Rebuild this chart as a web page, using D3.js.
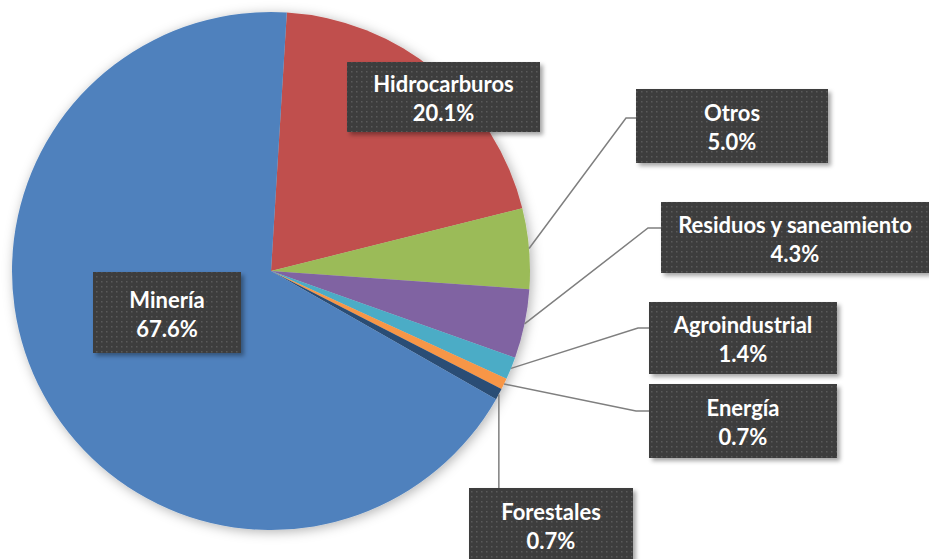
<!DOCTYPE html>
<html>
<head>
<meta charset="utf-8">
<script src="https://cdnjs.cloudflare.com/ajax/libs/d3/7.8.5/d3.min.js"></script>
<style>
  body { margin: 0; background: #fff; }
  svg { display: block; font-family: Lato, "Open Sans", sans-serif; }
</style>
</head>
<body>
<div id="vis"></div>
<script>
var width = 929,
	height = 559;

// data, clockwise from the top
var sectors = ["Hidrocarburos", "Otros", "Residuos y saneamiento", "Agroindustrial", "Energía", "Forestales", "Minería"];
var shares = [20.1, 5.0, 4.3, 1.4, 0.7, 0.7, 67.6];
var colors = ["#C0504D", "#9BBB59", "#8064A2", "#4BACC6", "#F79646", "#2C4D75", "#4F81BD"];

// label boxes: [x, y, w, h], elbow of the leader line (null = no line)
var boxes = [
	[347, 62, 193, 70],
	[636, 89, 192, 74],
	[661, 202, 268, 71],
	[649, 302, 188, 72],
	[649, 384, 188, 74],
	[469, 488, 164, 74],
	[93, 272, 148, 81]
];
var elbows = [null, [626, 118], [648, 228], [638, 328], [636, 411], null, null];

var cx = 271, cy = 271, r = 259;

var svg = d3.select('#vis')
	.append('svg')
	.attr('width', width)
	.attr('height', height);

var defs = svg.append('defs');

var pat = defs.append('pattern')
	.attr('id', 'dots')
	.attr('patternUnits', 'userSpaceOnUse')
	.attr('width', 5)
	.attr('height', 5);
pat.append('rect').attr('width', 5).attr('height', 5).attr('fill', '#3d3d3d');
pat.append('rect').attr('x', 1).attr('y', 1).attr('width', 1.5).attr('height', 1.5).attr('fill', '#5a5a5a');

var f1 = defs.append('filter').attr('id', 'pieShadow')
	.attr('x', '-10%').attr('y', '-10%').attr('width', '120%').attr('height', '120%');
f1.append('feDropShadow')
	.attr('dx', 2).attr('dy', 2).attr('stdDeviation', 6)
	.attr('flood-color', '#000').attr('flood-opacity', 0.3);

var f2 = defs.append('filter').attr('id', 'boxShadow')
	.attr('x', '-10%').attr('y', '-10%').attr('width', '130%').attr('height', '140%');
f2.append('feDropShadow')
	.attr('dx', 3).attr('dy', 3).attr('stdDeviation', 2)
	.attr('flood-color', '#000').attr('flood-opacity', 0.35);

var offset = 3.5 * Math.PI / 180;

var pie = d3.pie()
	.sort(null)
	.startAngle(offset)
	.endAngle(offset + 2 * Math.PI);

var arcs = pie(shares);

var arc = d3.arc()
	.innerRadius(0)
	.outerRadius(r);

var g = svg.append('g')
	.attr('transform', 'translate(' + cx + ',' + cy + ')');

g.append('g')
	.attr('filter', 'url(#pieShadow)')
	.selectAll('path')
	.data(arcs)
	.enter()
	.append('path')
	.attr('d', arc)
	.attr('fill', function(d, i) { return colors[i]; })
	.attr('stroke', 'none');

// leader lines
arcs.forEach(function(d, i) {
	var b = boxes[i];
	var mid = (d.startAngle + d.endAngle) / 2;
	var sx = cx + r * Math.sin(mid),
		sy = cy - r * Math.cos(mid);
	var pts = null;
	if (elbows[i]) {
		pts = [[sx, sy], elbows[i], [b[0], elbows[i][1]]];
	} else if (sectors[i] == "Forestales") {
		pts = [[sx, sy], [sx, b[1]]];
	}
	if (pts) {
		svg.append('path')
			.attr('d', d3.line()(pts))
			.attr('fill', 'none')
			.attr('stroke', '#7f7f7f')
			.attr('stroke-width', 1.5);
	}
});

// label boxes
var labels = svg.selectAll('g.lab')
	.data(arcs)
	.enter()
	.append('g')
	.attr('class', 'lab');

labels.append('rect')
	.attr('x', function(d, i) { return boxes[i][0]; })
	.attr('y', function(d, i) { return boxes[i][1]; })
	.attr('width', function(d, i) { return boxes[i][2]; })
	.attr('height', function(d, i) { return boxes[i][3]; })
	.attr('fill', 'url(#dots)')
	.attr('filter', 'url(#boxShadow)');

labels.append('text')
	.attr('x', function(d, i) { return boxes[i][0] + boxes[i][2] / 2; })
	.attr('y', function(d, i) { return boxes[i][1] + boxes[i][3] / 2 - 5; })
	.attr('text-anchor', 'middle')
	.attr('fill', '#fff')
	.attr('font-weight', 'bold')
	.attr('font-size', '22px')
	.text(function(d, i) { return sectors[i]; });

labels.append('text')
	.attr('x', function(d, i) { return boxes[i][0] + boxes[i][2] / 2; })
	.attr('y', function(d, i) { return boxes[i][1] + boxes[i][3] / 2 + 24; })
	.attr('text-anchor', 'middle')
	.attr('fill', '#fff')
	.attr('font-weight', 'bold')
	.attr('font-size', '22px')
	.text(function(d, i) { return shares[i].toFixed(1) + '%'; });
</script>
</body>
</html>
